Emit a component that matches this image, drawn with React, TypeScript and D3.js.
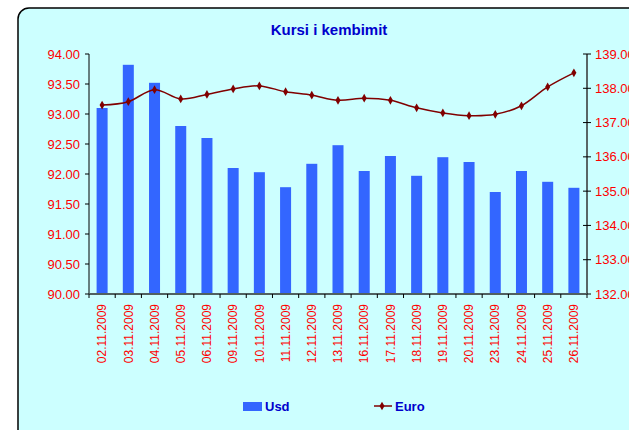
import React from 'react';
import * as d3 from 'd3';

const dates = [
	'02.11.2009', '03.11.2009', '04.11.2009', '05.11.2009', '06.11.2009',
	'09.11.2009', '10.11.2009', '11.11.2009', '12.11.2009', '13.11.2009',
	'16.11.2009', '17.11.2009', '18.11.2009', '19.11.2009', '20.11.2009',
	'23.11.2009', '24.11.2009', '25.11.2009', '26.11.2009',
];
const usd = [
	93.1, 93.82, 93.52, 92.8, 92.6, 92.1, 92.03, 91.78, 92.17, 92.48,
	92.05, 92.3, 91.97, 92.28, 92.2, 91.7, 92.05, 91.87, 91.77,
];
const euro = [
	137.51, 137.61, 137.96, 137.69, 137.82, 137.98, 138.07, 137.9, 137.8, 137.65,
	137.71, 137.65, 137.43, 137.28, 137.2, 137.24, 137.49, 138.04, 138.45,
];
const leftTicks = [90, 90.5, 91, 91.5, 92, 92.5, 93, 93.5, 94];
const rightTicks = [132, 133, 134, 135, 136, 137, 138, 139];

const font = 'Arial, "Liberation Sans", sans-serif';
const plot = { left: 89, right: 587, top: 54, bottom: 294 };

export default function App() {
	const x = d3.scaleBand<string>().domain(dates).range([plot.left, plot.right]).paddingInner(0.58).paddingOuter(0.29);
	const band = d3.scaleBand<string>().domain(dates).range([plot.left, plot.right]);
	const yL = d3.scaleLinear().domain([90, 94]).range([plot.bottom, plot.top]);
	const yR = d3.scaleLinear().domain([132, 139]).range([plot.bottom, plot.top]);

	const line = d3
		.line<number>()
		.x((_, i) => (band(dates[i]) as number) + band.bandwidth() / 2)
		.y((d) => yR(d))
		.curve(d3.curveCatmullRom.alpha(0));

	const diamond = d3.symbol(d3.symbolDiamond, 22)() as string;

	return (
		<svg width={629} height={430} style={{ position: 'absolute', left: 0, top: 0 }} fontFamily={font}>
			<rect x={18} y={8} width={640} height={440} rx={11} fill="#CCFFFF" stroke="#000" strokeWidth={1.5} />
			<text x={329} y={35} textAnchor="middle" fontSize={15} fontWeight="bold" fill="#0000CC">
				Kursi i kembimit
			</text>

			{/* bars */}
			{usd.map((v, i) => (
				<rect key={i} x={x(dates[i])} y={yL(v)} width={x.bandwidth()} height={plot.bottom - yL(v)} fill="#3366FF" />
			))}

			{/* left axis */}
			<line x1={plot.left} x2={plot.left} y1={plot.top} y2={plot.bottom} stroke="#000" />
			{leftTicks.map((t) => (
				<g key={t}>
					<line x1={plot.left - 4} x2={plot.left} y1={yL(t)} y2={yL(t)} stroke="#000" />
					<text x={plot.left - 9} y={yL(t)} dy="0.35em" textAnchor="end" fontSize={13} fill="#FF0000">
						{t.toFixed(2)}
					</text>
				</g>
			))}

			{/* right axis */}
			<line x1={plot.right} x2={plot.right} y1={plot.top} y2={plot.bottom} stroke="#333" strokeWidth={1.5} />
			{rightTicks.map((t) => (
				<g key={t}>
					<line x1={plot.right - 4} x2={plot.right + 4} y1={yR(t)} y2={yR(t)} stroke="#000" />
					<text x={plot.right + 8} y={yR(t)} dy="0.35em" fontSize={13} fill="#FF0000">
						{t.toFixed(2)}
					</text>
				</g>
			))}

			{/* x axis */}
			<line x1={plot.left} x2={plot.right} y1={plot.bottom} y2={plot.bottom} stroke="#506060" strokeWidth={2} />
			{dates.map((d, i) => (
				<line key={'t' + i} x1={band(d)} x2={band(d)} y1={plot.bottom} y2={plot.bottom + 4} stroke="#000" />
			))}
			<line x1={plot.right} x2={plot.right} y1={plot.bottom} y2={plot.bottom + 4} stroke="#000" />
			{dates.map((d) => {
				const cx = (band(d) as number) + band.bandwidth() / 2;
				return (
					<text
						key={d}
						transform={`translate(${cx},${plot.bottom + 10}) rotate(-90)`}
						textAnchor="end"
						dy="0.35em"
						fontSize={12}
						fill="#FF0000"
					>
						{d}
					</text>
				);
			})}

			{/* euro line */}
			<path d={line(euro) as string} fill="none" stroke="#800000" strokeWidth={1.5} />
			{euro.map((v, i) => (
				<path
					key={i}
					d={diamond}
					transform={`translate(${(band(dates[i]) as number) + band.bandwidth() / 2},${yR(v)})`}
					fill="#800000"
				/>
			))}

			{/* legend */}
			<rect x={243} y={402} width={19} height={9} fill="#3366FF" />
			<text x={265} y={411} fontSize={13} fontWeight="bold" fill="#0000CC">Usd</text>
			<line x1={374} x2={392} y1={406} y2={406} stroke="#800000" strokeWidth={1.5} />
			<path d={diamond} transform="translate(382,406)" fill="#800000" />
			<text x={395} y={411} fontSize={13} fontWeight="bold" fill="#0000CC">Euro</text>
		</svg>
	);
}
